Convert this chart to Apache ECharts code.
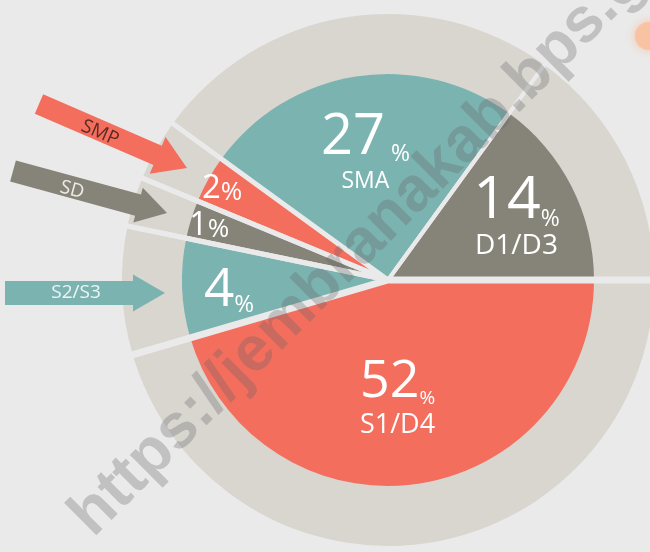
<!DOCTYPE html>
<html><head><meta charset="utf-8">
<script src="https://cdn.jsdelivr.net/npm/echarts@6/dist/echarts.min.js"></script>
<style>html,body{margin:0;padding:0;background:#eaeaea;overflow:hidden}#c{width:650px;height:552px}</style>
</head><body><div id="c"></div>
<script>
// ---- data ----
const categories = ['S1/D4', 'S2/S3', 'SD', 'SMP', 'SMA', 'D1/D3'];
const percentLabels = [52, 4, 1, 2, 27, 14];
// sector sizes as drawn in the infographic (degrees; the artwork is not to scale)
const drawnAngles = [163.7, 28, 10.8, 13.5, 90, 54];
const showCategoryInSlice = [true, false, false, false, true, true];
const arrowCategories = ['SMP', 'SD', 'S2/S3'];
const watermarkText = 'https://jembranakab.bps.go.id';

// ---- styling ----
const BG = '#eaeaea';
const RING = '#d9d6d0';
const RED = '#f46e5e', TEAL = '#7bb3b1', GREY = '#868479';
const sliceColors = [RED, TEAL, GREY, RED, TEAL, GREY];
const gapWidths = [7, 5, 5, 5, 4, 4];
const FONT = '"Open Sans", "Noto Sans", sans-serif';
const CX = 388, CY = 280, R_PIE = 206, R_RING = 266;
const labelStyles = [
  {num: 52, numLH: 56, pct: 19, name: 27, nameLH: 33, sp: ''},
  {num: 53, numLH: 53, pct: 24, sp: ''},
  {num: 33, numLH: 33, pct: 26, sp: ''},
  {num: 33, numLH: 33, pct: 26, sp: ''},
  {num: 56, numLH: 60, pct: 23, name: 23, nameLH: 30, sp: ' '},
  {num: 59, numLH: 53, pct: 23, name: 28, nameLH: 30, sp: ''}
];
const labelDx = [-10, -21, -47, -45.5, -1, 5.5];
const labelDy = [-19.6, 5.6, -13.8, -23.5, 7.3, 2.3];

const chart = echarts.init(document.getElementById('c'), null, {renderer: 'canvas'});

const ringData = categories.map((c, i) => ({name: c, value: drawnAngles[i], itemStyle: {color: RING}}));
const pieData = categories.map((c, i) => ({name: c, value: drawnAngles[i], itemStyle: {color: sliceColors[i]}}));
const overlayData = categories.map((c, i) => {
  const s = labelStyles[i];
  let fmt = '{n|' + percentLabels[i] + '}{p|' + s.sp + '%}';
  const rich = {
    n: {fontSize: s.num, lineHeight: s.numLH, fontFamily: FONT, color: '#fff', verticalAlign: 'bottom'},
    p: {fontSize: s.pct, lineHeight: s.numLH - 0.72 * (s.num - s.pct), fontFamily: FONT, color: '#fff', verticalAlign: 'bottom'}
  };
  if (showCategoryInSlice[i]) {
    fmt += '\n{t|' + c + '}';
    rich.t = {fontSize: s.name, lineHeight: s.nameLH, fontFamily: FONT, color: '#fff'};
  }
  return {
    name: c, value: drawnAngles[i],
    itemStyle: {color: 'rgba(0,0,0,0)', borderColor: BG, borderWidth: gapWidths[i]},
    label: {formatter: fmt, rich: rich}
  };
});

function arrowPts(tail, tip, hb, hh, hl) {
  const dx = tip[0] - tail[0], dy = tip[1] - tail[1];
  const L = Math.hypot(dx, dy), ux = dx / L, uy = dy / L, nx = -uy, ny = ux;
  const bx = tip[0] - ux * hl, by = tip[1] - uy * hl;
  return [
    [tail[0] + nx * hb, tail[1] + ny * hb], [bx + nx * hb, by + ny * hb], [bx + nx * hh, by + ny * hh],
    tip, [bx - nx * hh, by - ny * hh], [bx - nx * hb, by - ny * hb], [tail[0] - nx * hb, tail[1] - ny * hb]
  ];
}
const arrows = [
  {tail: [39, 104], tip: [187, 168], hb: 10.5, hh: 20, hl: 32, color: RED, text: '#5b2a24', lx: 100, ly: 133, size: 19},
  {tail: [13, 171], tip: [167, 213], hb: 11, hh: 18, hl: 30, color: GREY, text: '#ecebe6', lx: 72, ly: 190, size: 19},
  {tail: [5, 293], tip: [165, 293], hb: 12, hh: 18.5, hl: 32, color: TEAL, text: '#eef5f4', lx: 76, ly: 293, size: 19}
];
const graphics = [];
arrows.forEach((a, i) => {
  const ang = Math.atan2(a.tip[1] - a.tail[1], a.tip[0] - a.tail[0]);
  graphics.push({type: 'polygon', z: 100, shape: {points: arrowPts(a.tail, a.tip, a.hb, a.hh, a.hl)}, style: {fill: a.color}, silent: true});
  graphics.push({type: 'text', z: 101, x: a.lx, y: a.ly, rotation: -ang, silent: true,
    style: {text: arrowCategories[i], fill: a.text, font: a.size + 'px ' + FONT, align: 'center', verticalAlign: 'middle'}});
});
graphics.push({type: 'circle', z: 90, shape: {cx: 649, cy: 36, r: 14}, silent: true,
  style: {fill: '#f7c3a2', shadowBlur: 10, shadowColor: '#f7c3a2'}});
graphics.push({type: 'text', z: 200, x: 81, y: 526, rotation: 45 * Math.PI / 180, silent: true,
  style: {text: watermarkText, fill: 'rgba(100,100,100,0.3)', font: 'bold 63px "Liberation Sans", Arial, sans-serif', align: 'left', verticalAlign: 'middle'}});

chart.setOption({
  backgroundColor: BG,
  animation: false,
  series: [
    {type: 'pie', z: 1, silent: true, center: [CX, CY], radius: [0, R_RING], startAngle: 0, clockwise: true,
      label: {show: false}, labelLine: {show: false}, data: ringData},
    {type: 'pie', z: 2, silent: true, center: [CX, CY], radius: [0, R_PIE], startAngle: 0, clockwise: true,
      label: {show: false}, labelLine: {show: false}, data: pieData},
    {type: 'pie', z: 3, silent: true, center: [CX, CY], radius: [0, 270], startAngle: 0, clockwise: true,
      label: {show: true, position: 'inside', color: '#fff'}, labelLine: {show: false},
      labelLayout: function (p) { return {dx: labelDx[p.dataIndex], dy: labelDy[p.dataIndex]}; },
      data: overlayData}
  ],
  graphic: graphics
});
</script></body></html>
